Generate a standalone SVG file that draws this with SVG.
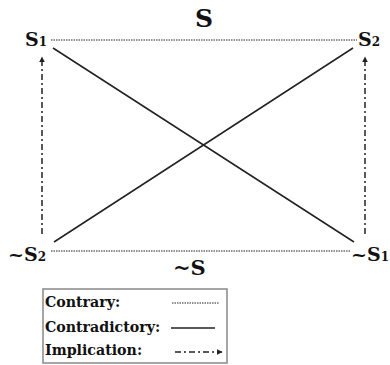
<svg xmlns="http://www.w3.org/2000/svg" width="390" height="365" viewBox="0 0 390 365">
<style>
.t{font-family:"DejaVu Serif","Liberation Serif",serif;font-weight:bold;fill:#111}
.dot{stroke:#222;stroke-width:1;stroke-dasharray:1.5 1;fill:none}
.sol{stroke:#222;stroke-width:1.5;fill:none}
.imp{stroke:#222;stroke-width:1.5;stroke-dasharray:6 3 2 3;fill:none}
</style>
<defs>
<marker id="ah" viewBox="0 0 10 10" refX="9" refY="5" markerWidth="4" markerHeight="4" orient="auto" markerUnits="strokeWidth">
<path d="M0,0 L10,5 L0,10 Z" fill="#222"/>
</marker>
</defs>
<rect width="390" height="365" fill="#fff"/>
<g id="connectors">
<line class="dot" x1="51" y1="40" x2="357" y2="40"/>
<line class="dot" x1="51" y1="251" x2="350" y2="251"/>
<line class="sol" x1="53" y1="48" x2="354" y2="242"/>
<line class="sol" x1="54" y1="242" x2="353" y2="48"/>
<line class="imp" x1="42" y1="234" x2="42" y2="57" marker-end="url(#ah)"/>
<line class="imp" x1="365" y1="234" x2="365" y2="57" marker-end="url(#ah)"/>
</g>
<g id="title-S"><text class="t" x="204" y="27" font-size="25" text-anchor="middle">S</text></g>
<g id="S1"><text class="t" x="25" y="46" font-size="19">S<tspan font-size="12">1</tspan></text></g>
<g id="S2"><text class="t" x="358" y="46" font-size="19">S<tspan font-size="12">2</tspan></text></g>
<g id="notS2"><text class="t" x="8" y="261" font-size="19">~S<tspan font-size="12">2</tspan></text></g>
<g id="notS1"><text class="t" x="351" y="261" font-size="19">~S<tspan font-size="12">1</tspan></text></g>
<g id="bottom-notS"><text class="t" x="173" y="275" font-size="21">~S</text></g>
<g id="legend">
<rect x="43" y="289" width="184" height="74" fill="none" stroke="#888" stroke-width="1.5"/>
<text class="t" x="45" y="307" font-size="14.2">Contrary:</text>
<text class="t" x="45" y="332" font-size="14.2">Contradictory:</text>
<text class="t" x="45" y="355" font-size="14.2">Implication:</text>
<line class="dot" x1="172" y1="303" x2="219" y2="303"/>
<line class="sol" x1="171" y1="328" x2="215" y2="328"/>
<line class="imp" x1="175" y1="352" x2="222" y2="352" marker-end="url(#ah)"/>
</g>
</svg>
